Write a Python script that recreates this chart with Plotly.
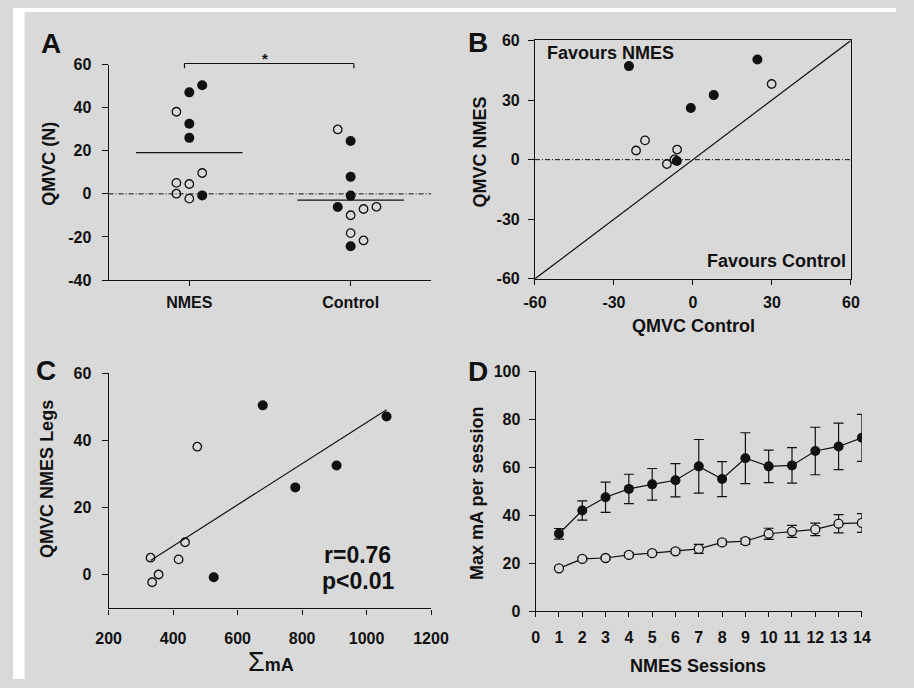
import numpy as np
import plotly.graph_objects as go

# ---- QMVC change (N) per leg; filled = one leg group, open = other
nmes_filled = [50.4, 47.1, 32.5, 26.0, -0.7]
nmes_open = [38.1, 9.7, 5.1, 4.6, 0.1, -2.2]
control_filled = [24.5, -24.3, 7.9, -0.8, -6.1]        # paired with nmes_filled
control_open = [29.9, -18.2, -6.0, -21.6, -7.0, -9.9]  # paired with nmes_open
groups = ["NMES", "Control"]

# ---- cumulative current (sum of mA) for the NMES legs, paired as above
sum_ma_filled = [678, 1062, 907, 779, 526]
sum_ma_open = [475, 437, 330, 417, 355, 335]
r_label = "r=0.76"
p_label = "p<0.01"

# ---- max current per session (mean ± SEM)
sessions = list(range(1, 15))
ma_filled = [32.2, 41.9, 47.4, 50.9, 52.8, 54.5, 60.3, 55.0, 63.7, 60.3, 60.7, 66.7, 68.6, 72.2]
ma_filled_err = [2.2, 4.0, 6.3, 6.1, 6.6, 6.9, 11.2, 7.3, 10.6, 6.8, 7.4, 9.9, 9.7, 9.8]
ma_open = [17.8, 21.7, 22.1, 23.4, 24.1, 24.9, 25.9, 28.6, 29.1, 32.2, 33.2, 34.0, 36.4, 36.7]
ma_open_err = [0.5, 0.8, 0.7, 0.8, 0.8, 0.9, 1.9, 0.9, 1.2, 2.3, 2.5, 2.6, 3.8, 3.9]

# tick values
ticks_a_y = [-40, -20, 0, 20, 40, 60]
ticks_b = [-60, -30, 0, 30, 60]
ticks_c_x = [200, 400, 600, 800, 1000, 1200]
ticks_c_y = [0, 20, 40, 60]
ticks_d_x = list(range(0, 15))
ticks_d_y = [0, 20, 40, 60, 80, 100]

# horizontal jitter of the dot plot (category units)
nmes_filled_jit = [0.08, 0, 0, 0, 0.08]
nmes_open_jit = [-0.08, 0.08, -0.08, 0, -0.08, 0]
control_filled_jit = [0, 0, 0, 0, -0.08]
control_open_jit = [-0.08, 0, 0.16, 0.08, 0.08, 0]

W, H = 914, 688
BG = "#d9d9d9"
INK = "#111111"
FONT = "Liberation Sans, Arial, sans-serif"


def px_x(p):
    return p / W


def px_y(p):
    return 1 - p / H


def hyphen_labels(vals):
    # plain hyphen-minus for negative tick labels
    return [str(v) for v in vals]


dom = {
    "A": ([px_x(99), px_x(433)], [px_y(279), px_y(58)]),
    "B": ([px_x(540.3), px_x(867.3)], [px_y(277.7), px_y(33.3)]),
    "C": ([px_x(99), px_x(432.7)], [px_y(615.7), px_y(374.3)]),
    "D": ([px_x(541), px_x(878.7)], [px_y(618.3), px_y(372.3)]),
}
rngA_x, rngA_y = [-0.5, 1.5], [-40, 60]

filled_marker = dict(size=10, color=INK, line=dict(width=0))
open_marker = dict(size=8.5, color="rgba(0,0,0,0)", line=dict(color=INK, width=1.3))

fig = go.Figure()

# ---------------- A: dot plot ----------------
xs_nf = [0 + j for j in nmes_filled_jit]
xs_no = [0 + j for j in nmes_open_jit]
xs_cf = [1 + j for j in control_filled_jit]
xs_co = [1 + j for j in control_open_jit]
fig.add_trace(go.Scatter(x=xs_no + xs_co, y=nmes_open + control_open, mode="markers",
                         marker=open_marker, xaxis="x", yaxis="y"))
fig.add_trace(go.Scatter(x=xs_nf + xs_cf, y=nmes_filled + control_filled, mode="markers",
                         marker=filled_marker, xaxis="x", yaxis="y"))
# group means
for gi, vals in enumerate([nmes_filled + nmes_open, control_filled + control_open]):
    m = float(np.mean(vals))
    fig.add_trace(go.Scatter(x=[gi - 0.33, gi + 0.33], y=[m, m], mode="lines",
                             line=dict(color=INK, width=1.4), xaxis="x", yaxis="y"))

# ---------------- B: paired scatter ----------------
fig.add_trace(go.Scatter(x=[-60, 60], y=[-60, 60], mode="lines",
                         line=dict(color=INK, width=1.2), xaxis="x2", yaxis="y2"))
fig.add_trace(go.Scatter(x=control_open, y=nmes_open, mode="markers",
                         marker=open_marker, xaxis="x2", yaxis="y2"))
fig.add_trace(go.Scatter(x=control_filled, y=nmes_filled, mode="markers",
                         marker=filled_marker, xaxis="x2", yaxis="y2"))

# ---------------- C: correlation ----------------
cx = np.array(sum_ma_filled + sum_ma_open, dtype=float)
cy = np.array(nmes_filled + nmes_open, dtype=float)
slope, icpt = np.polyfit(cx, cy, 1)
fx = np.array([cx.min(), cx.max()])
fig.add_trace(go.Scatter(x=fx, y=slope * fx + icpt, mode="lines",
                         line=dict(color=INK, width=1.2), xaxis="x3", yaxis="y3"))
fig.add_trace(go.Scatter(x=sum_ma_open, y=nmes_open, mode="markers",
                         marker=open_marker, xaxis="x3", yaxis="y3"))
fig.add_trace(go.Scatter(x=sum_ma_filled, y=nmes_filled, mode="markers",
                         marker=filled_marker, xaxis="x3", yaxis="y3"))

# ---------------- D: current per session ----------------
err_style = dict(type="data", thickness=1.2, width=5, color=INK)
fig.add_trace(go.Scatter(x=sessions, y=ma_open, mode="lines+markers",
                         error_y=dict(array=ma_open_err, **err_style),
                         line=dict(color=INK, width=1.2),
                         marker=dict(size=9, color=BG, line=dict(color=INK, width=1.3)),
                         xaxis="x4", yaxis="y4"))
fig.add_trace(go.Scatter(x=sessions, y=ma_filled, mode="lines+markers",
                         error_y=dict(array=ma_filled_err, **err_style),
                         line=dict(color=INK, width=1.2),
                         marker=dict(size=10, color=INK),
                         xaxis="x4", yaxis="y4"))

tickfont = dict(family=FONT, size=16, color=INK, weight="bold")
base = dict(showline=True, linecolor=INK, linewidth=1.2, ticks="outside", tickcolor=INK,
            tickwidth=1.2, showgrid=False, zeroline=False, tickfont=tickfont, fixedrange=True)

fig.update_layout(
    width=W, height=H, margin=dict(l=0, r=0, t=0, b=0),
    paper_bgcolor=BG, plot_bgcolor="rgba(0,0,0,0)", showlegend=False,
    xaxis=dict(base, domain=dom["A"][0], range=rngA_x, tickvals=[0, 1], ticktext=groups,
               ticklen=5, anchor="y", ticklabelstandoff=3),
    yaxis=dict(base, domain=dom["A"][1], range=rngA_y, tickvals=ticks_a_y,
               ticktext=hyphen_labels(ticks_a_y), ticklen=6, anchor="x", ticklabelstandoff=7),
    xaxis2=dict(base, domain=dom["B"][0], range=[-60, 60], tickvals=ticks_b,
                ticktext=hyphen_labels(ticks_b), ticklen=5, anchor="y2", mirror=True,
                ticklabelstandoff=4),
    yaxis2=dict(base, domain=dom["B"][1], range=[-60, 60], tickvals=ticks_b,
                ticktext=hyphen_labels(ticks_b), ticklen=6, anchor="x2", mirror=True,
                ticklabelstandoff=5),
    xaxis3=dict(base, domain=dom["C"][0], range=[200, 1200], tickvals=ticks_c_x,
                ticklen=5, anchor="y3", ticklabelstandoff=10),
    yaxis3=dict(base, domain=dom["C"][1], range=[-10, 60], tickvals=ticks_c_y,
                ticklen=6, anchor="x3", ticklabelstandoff=7),
    xaxis4=dict(base, domain=dom["D"][0], range=[0, 14], tickvals=ticks_d_x,
                ticklen=5, anchor="y4", ticklabelstandoff=7),
    yaxis4=dict(base, domain=dom["D"][1], range=[0, 100], tickvals=ticks_d_y,
                ticklen=6, anchor="x4", ticklabelstandoff=5),
)

shapes = [
    # white page edge at left and top
    dict(type="rect", xref="paper", yref="paper", x0=0, x1=px_x(12), y0=0, y1=1,
         fillcolor="white", line=dict(width=0), layer="below"),
    dict(type="rect", xref="paper", yref="paper", x0=0, x1=1, y0=px_y(4), y1=1,
         fillcolor="white", line=dict(width=0), layer="below"),
    # zero reference lines
    dict(type="line", xref="x", yref="y", x0=rngA_x[0], x1=rngA_x[1], y0=0, y1=0,
         line=dict(color=INK, width=1, dash="5px,2px,1px,2px")),
    dict(type="line", xref="x2", yref="y2", x0=-60, x1=60, y0=0, y1=0,
         line=dict(color=INK, width=1, dash="5px,2px,1px,2px")),
]


def a_px(xv, yv):
    """Map A-panel data coordinates to paper coordinates."""
    (dx0, dx1), (dy0, dy1) = dom["A"]
    return (dx0 + (xv - rngA_x[0]) / (rngA_x[1] - rngA_x[0]) * (dx1 - dx0),
            dy0 + (yv - rngA_y[0]) / (rngA_y[1] - rngA_y[0]) * (dy1 - dy0))


# significance bracket above panel A
bl, btop = a_px(-0.03, 60.5)
br, bbot = a_px(1.02, 58.3)
for seg in [((bl, btop), (br, btop)), ((bl, btop), (bl, bbot)), ((br, btop), (br, bbot))]:
    shapes.append(dict(type="line", xref="paper", yref="paper",
                       x0=seg[0][0], y0=seg[0][1], x1=seg[1][0], y1=seg[1][1],
                       line=dict(color=INK, width=1.2)))
fig.update_layout(shapes=shapes)


def label(text, x, y, size=18, angle=0, xref="paper", yref="paper", xanchor="center"):
    fig.add_annotation(text=text, x=x, y=y, xref=xref, yref=yref, showarrow=False,
                       textangle=angle, xanchor=xanchor, yanchor="middle",
                       font=dict(family=FONT, size=size, color=INK, weight="bold"))


# panel letters
for letter, (lx, ly) in {"A": (39, 36), "B": (481, 35), "C": (34, 372), "D": (481, 372.5)}.items():
    label(letter, px_x(lx), px_y(ly), size=28)

# axis titles
label("QMVC (N)", px_x(37), px_y(160), angle=-90)
label("QMVC NMES", px_x(483), px_y(147.5), angle=-90)
label("QMVC Control", px_x(704), px_y(326))
label("QMVC NMES Legs", px_x(35), px_y(483), angle=-90)
label('<span style="font-size:27px;font-weight:normal">Σ</span>mA', px_x(267), px_y(671))
label("Max mA per session", px_x(480), px_y(497.5), angle=-90)
label("NMES Sessions", px_x(709), px_y(675))

# in-panel text
label("*", px_x(261), px_y(52), size=15)
label("Favours NMES", -31.5, 53.7, xref="x2", yref="y2")
label("Favours Control", 31.8, -50.8, xref="x2", yref="y2")
label(r_label, 972, 5.8, size=23, xref="x3", yref="y3")
label(p_label, 972, -1.9, size=23, xref="x3", yref="y3")

fig.write_html("out.html")
